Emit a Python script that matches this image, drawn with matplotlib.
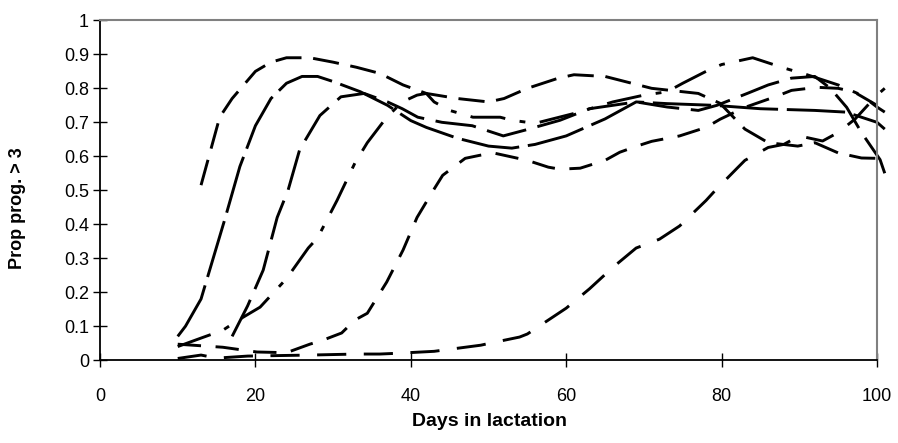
import matplotlib
matplotlib.use("Agg")
import matplotlib.pyplot as plt

plt.rcParams['font.family'] = ['Liberation Sans Narrow', 'Liberation Sans', 'DejaVu Sans']

# curves (days, proportion)
x1 = [10, 11, 13, 16, 18, 20, 22, 24, 26, 28, 30, 33.5, 37, 40, 42, 46, 50, 53, 56, 60, 65, 69, 73, 79, 85, 92, 96, 100, 101]
y1 = [0.07, 0.1, 0.18, 0.41, 0.57, 0.69, 0.77, 0.815, 0.835, 0.835, 0.82, 0.79, 0.75, 0.705, 0.685, 0.653, 0.63, 0.624, 0.635, 0.66, 0.71, 0.76, 0.755, 0.75, 0.74, 0.735, 0.73, 0.70, 0.68]

x2 = [13, 15.4, 17, 20, 22, 24, 27, 30, 33, 36, 39, 42, 46, 50, 52, 55, 59, 61, 65, 71, 75, 77, 79.8, 83, 86, 89.8, 92, 95, 98, 100, 101]
y2 = [0.515, 0.715, 0.77, 0.85, 0.877, 0.89, 0.89, 0.877, 0.862, 0.844, 0.81, 0.785, 0.77, 0.76, 0.77, 0.80, 0.83, 0.84, 0.835, 0.80, 0.79, 0.785, 0.756, 0.68, 0.64, 0.63, 0.64, 0.61, 0.595, 0.594, 0.594]

x3 = [17, 19, 21, 22.8, 24.2, 25.7, 28.3, 31, 34, 37, 38.9, 40.9, 44, 47.9, 51.9, 54.7, 59.2, 63, 69, 73, 77, 79.4, 83.3, 86, 89, 92, 94, 96.1, 98, 100.4, 101]
y3 = [0.07, 0.16, 0.265, 0.42, 0.5, 0.62, 0.72, 0.775, 0.785, 0.76, 0.74, 0.715, 0.70, 0.69, 0.66, 0.677, 0.706, 0.74, 0.76, 0.745, 0.735, 0.75, 0.785, 0.81, 0.83, 0.835, 0.80, 0.744, 0.67, 0.59, 0.55]

x4 = [10, 13, 15.8, 17.8, 20.6, 24, 26.8, 28, 30.5, 32.8, 34.4, 36.9, 38.9, 40.8, 42, 43, 45, 48, 51.5, 53, 56, 61, 66, 70, 73, 75, 78, 80, 84, 88, 91, 95, 98, 100, 101]
y4 = [0.04, 0.065, 0.088, 0.118, 0.156, 0.24, 0.33, 0.36, 0.47, 0.58, 0.64, 0.715, 0.76, 0.78, 0.785, 0.76, 0.735, 0.715, 0.715, 0.706, 0.697, 0.726, 0.76, 0.78, 0.79, 0.815, 0.85, 0.87, 0.89, 0.86, 0.84, 0.81, 0.78, 0.745, 0.73]

x5 = [10, 15.8, 20.2, 24, 27, 28.7, 31.1, 32.8, 34.4, 36.9, 39, 40.8, 42.9, 44.1, 47, 48.9, 50.6, 55, 57.7, 59.2, 61.8, 65, 66.9, 69.1, 71, 74.6, 78, 79.8, 83, 85, 87, 89, 92.3, 95, 97, 100, 101]
y5 = [0.047, 0.038, 0.024, 0.022, 0.047, 0.059, 0.08, 0.118, 0.138, 0.23, 0.324, 0.42, 0.5, 0.544, 0.594, 0.603, 0.61, 0.588, 0.568, 0.562, 0.565, 0.588, 0.612, 0.63, 0.644, 0.66, 0.685, 0.709, 0.744, 0.76, 0.776, 0.794, 0.803, 0.80, 0.79, 0.75, 0.73]

x6 = [10, 13, 15, 19, 27, 33, 36, 38, 43, 49, 50.2, 54, 55, 60, 63, 66, 69, 72, 74.6, 78, 79.2, 82, 83, 86, 88, 90, 93, 95, 97.2, 100, 101]
y6 = [0.005, 0.015, 0.006, 0.012, 0.015, 0.018, 0.018, 0.02, 0.026, 0.044, 0.05, 0.068, 0.077, 0.153, 0.21, 0.273, 0.33, 0.356, 0.395, 0.47, 0.5, 0.565, 0.588, 0.626, 0.635, 0.66, 0.645, 0.67, 0.71, 0.78, 0.80]

series = [(x1, y1), (x2, y2), (x3, y3), (x4, y4), (x5, y5), (x6, y6)]
dashes = [(20, 3), (9, 4), (14, 4), (12, 5, 2, 5), (8, 5), (10, 6)]

fig, ax = plt.subplots(figsize=(8.98, 4.43), dpi=100)
fig.subplots_adjust(left=0.1114, right=0.9766, top=0.954, bottom=0.187)

for (xs, ys), d in zip(series, dashes):
    ax.plot(xs, ys, color='black', lw=2.1, dashes=d, clip_on=False,
            solid_capstyle='butt', dash_capstyle='butt')

ax.set_xlim(0, 100)
ax.set_ylim(0, 1)
ax.set_xticks([0, 20, 40, 60, 80, 100])
ax.set_yticks([i / 10 for i in range(11)])
ax.set_yticklabels(['0', '0.1', '0.2', '0.3', '0.4', '0.5', '0.6', '0.7', '0.8', '0.9', '1'])
ax.tick_params(direction='inout', length=10, width=1, labelsize=13)
ax.tick_params(axis='x', pad=15)
ax.tick_params(axis='y', pad=3)

for s in ['left', 'bottom']:
    ax.spines[s].set_color('black')
    ax.spines[s].set_linewidth(1.3)
for s in ['top', 'right']:
    ax.spines[s].set_color('#808080')
    ax.spines[s].set_linewidth(1.5)

fig.text(489 / 898, 1 - 422 / 443, 'Days in lactation', fontsize=14, fontweight='bold',
         ha='center', va='center')
fig.text(18 / 898, 1 - 208 / 443, 'Prop prog. > 3', fontsize=13, fontweight='bold',
         ha='center', va='center', rotation=90)

fig.savefig('out.png', dpi=100)
